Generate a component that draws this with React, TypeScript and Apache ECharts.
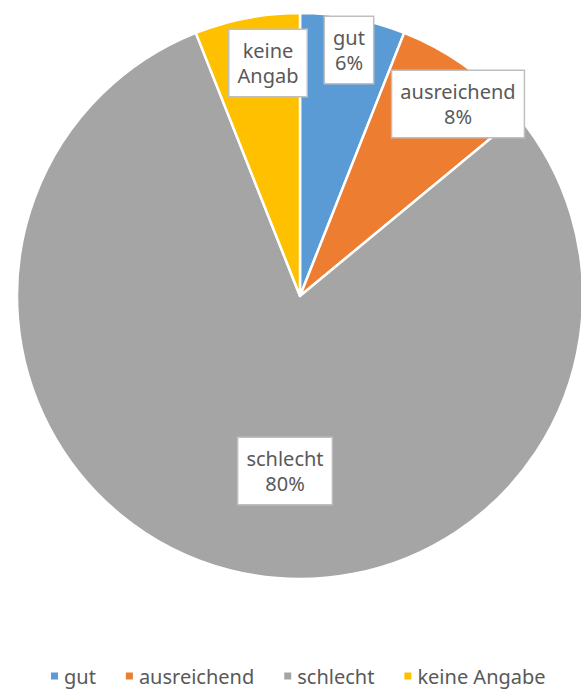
import React, { useEffect, useRef } from "react";
import * as echarts from "echarts";

const categories = ["gut", "ausreichend", "schlecht", "keine Angabe"];
const values = [6, 8, 80, 6];
const labelTexts = ["gut\n6%", "ausreichend\n8%", "schlecht\n80%", "keine\nAngab"];
const colors = ["#5B9BD5", "#ED7D31", "#A5A5A5", "#FFC000"];
const labelPositions = [
  [349, 50],
  [458, 104],
  [285, 471],
  [268, 63],
];

export default function App() {
  const ref = useRef<HTMLDivElement>(null);
  useEffect(() => {
    if (!ref.current) return;
    const chart = echarts.init(ref.current, undefined, { renderer: "svg" });
    const font = "'Noto Sans', sans-serif";
    chart.setOption({
      animation: false,
      color: colors,
      legend: {
        data: categories,
        bottom: 2,
        left: 44,
        icon: "rect",
        itemWidth: 9,
        itemHeight: 9,
        itemGap: 28,
        textStyle: { color: "#595959", fontSize: 20, fontFamily: font },
      },
      series: [
        {
          type: "pie",
          center: [300, 296],
          radius: 283,
          startAngle: 90,
          clockwise: true,
          itemStyle: { borderColor: "#fff", borderWidth: 2.5 },
          label: {
            show: true,
            position: "inside",
            formatter: (p: any) => labelTexts[p.dataIndex],
            color: "#595959",
            fontSize: 20,
            fontFamily: font,
            lineHeight: 25,
            align: "center",
            verticalAlign: "middle",
            backgroundColor: "#fff",
            borderColor: "#bfbfbf",
            borderWidth: 1.5,
            padding: [9, 8, 7, 8],
          },
          labelLayout: (p: any) => ({
            x: labelPositions[p.dataIndex][0],
            y: labelPositions[p.dataIndex][1],
          }),
          emphasis: { disabled: true },
          data: categories.map((c, i) => ({ name: c, value: values[i] })),
        },
      ],
    });
    return () => chart.dispose();
  }, []);
  return (
    <div
      ref={ref}
      style={{ position: "absolute", left: 0, top: 0, width: 581, height: 693 }}
    />
  );
}
